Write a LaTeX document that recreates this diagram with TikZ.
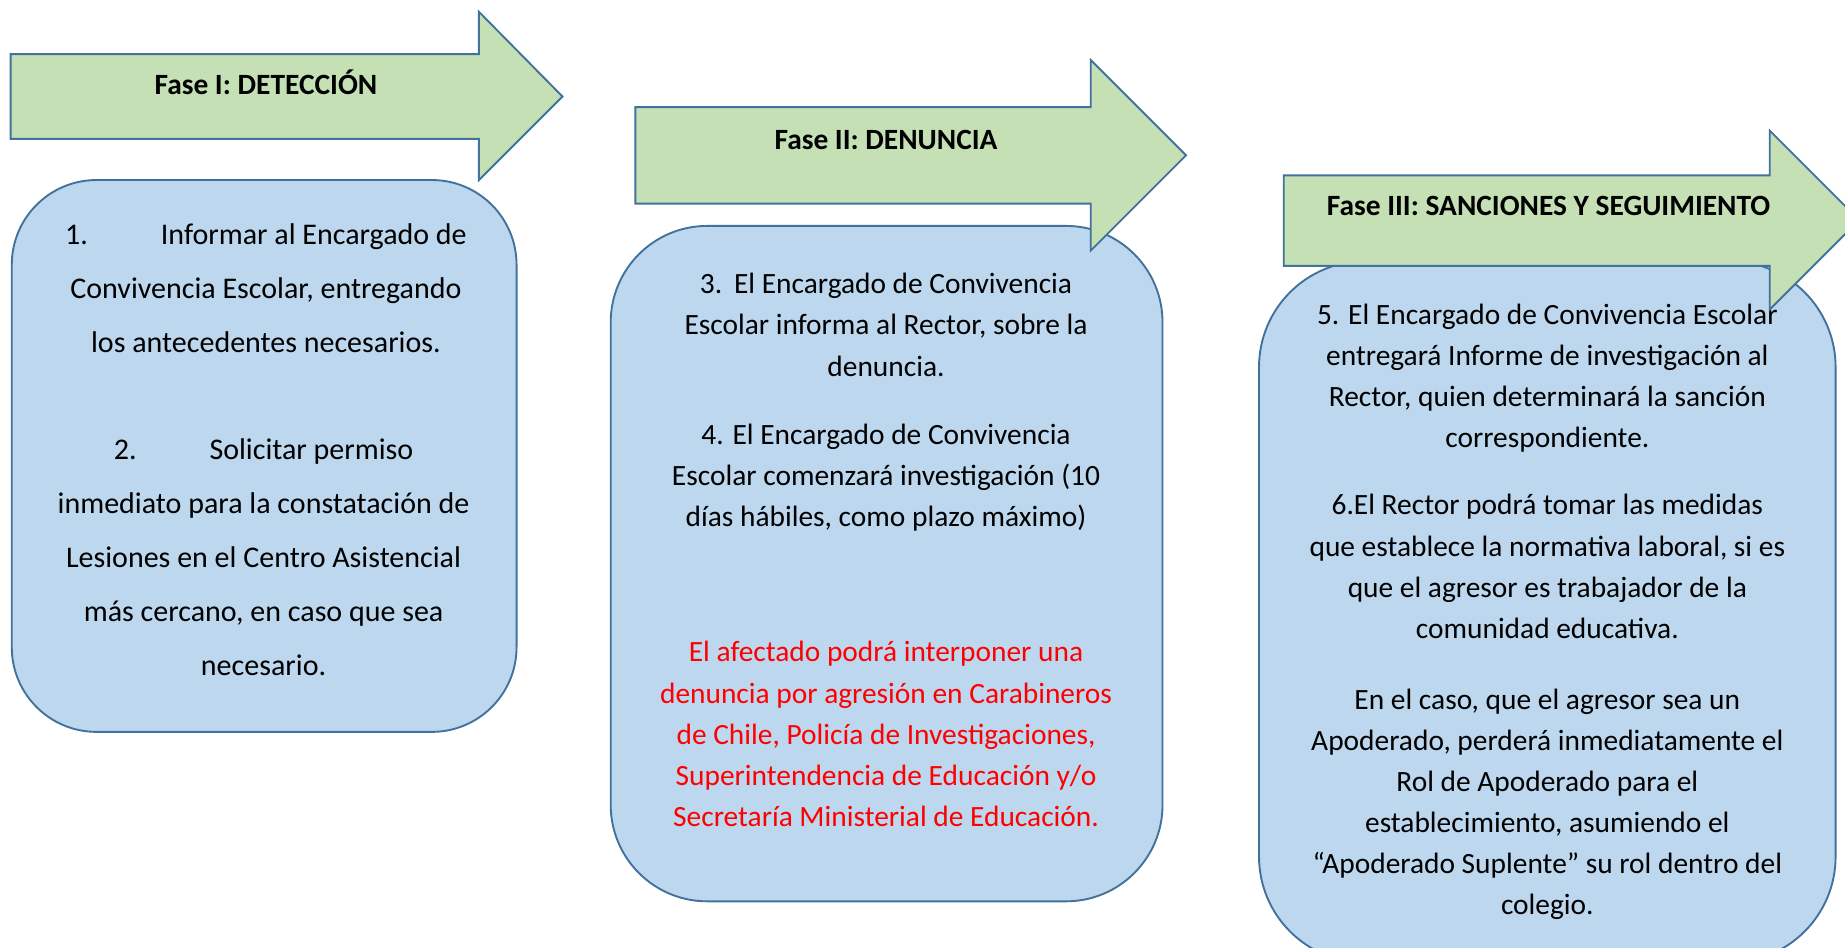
\documentclass[tikz,border=0pt]{standalone}
\usepackage{fontspec}
\setmainfont{Carlito}
\definecolor{arrowfill}{HTML}{C5E0B4}
\definecolor{boxfill}{HTML}{BDD7EE}
\definecolor{edgeblue}{HTML}{41719C}
\definecolor{alertred}{HTML}{FF0000}
\tikzset{
  phasearrow/.style={fill=arrowfill, draw=edgeblue, line width=1.6pt, line join=miter},
  stagebox/.style={fill=boxfill, draw=edgeblue, line width=1.6pt, inner sep=0pt},
  phaselabel/.style={font=\bfseries\fontsize{25}{28}\selectfont, inner sep=0pt, anchor=base},
  bodytext/.style={font=\fontsize{25}{35}\selectfont, align=center, inner sep=0pt, anchor=north},
  widetext/.style={font=\fontsize{25.5}{45.8}\selectfont, align=center, inner sep=0pt, anchor=north},
}
\begin{document}
\begin{tikzpicture}[x=1pt,y=-1pt]
\useasboundingbox (0,0) rectangle (1568,805);
\clip (0,0) rectangle (1568,805);
% ---- Phase I ----
\draw[phasearrow] (9,46) -- (407,46) -- (407,10) -- (478,82) -- (407,153) -- (407,118) -- (9,118) -- cycle;
\node[phaselabel] (f1) at (226,80) {Fase I: DETECCIÓN};
\node[stagebox, rounded corners=72pt, minimum width=429pt, minimum height=469pt] (b1) at (224.5,387.5) {};
\node[widetext] (t1a) at (226,190) {1.\hspace{62pt}Informar al Encargado de\\Convivencia Escolar, entregando\\los antecedentes necesarios.};
\node[widetext] (t1b) at (224,373) {2.\hspace{62pt}Solicitar permiso\\inmediato para la constatación de\\Lesiones en el Centro Asistencial\\más cercano, en caso que sea\\necesario.};
% ---- Phase II ----
\node[stagebox, rounded corners=82pt, minimum width=469pt, minimum height=574pt] (b2) at (753.5,479) {};
\node[bodytext] (t2a) at (753,232) {3.\hspace{10pt}El Encargado de Convivencia\\Escolar informa al Rector, sobre la\\denuncia.};
\node[bodytext] (t2b) at (753,360) {4. El Encargado de Convivencia\\Escolar comenzará investigación (10\\días hábiles, como plazo máximo)};
\node[bodytext, text=alertred] (t2c) at (753,545) {El afectado podrá interponer una\\denuncia por agresión en Carabineros\\de Chile, Policía de Investigaciones,\\Superintendencia de Educación y/o\\Secretaría Ministerial de Educación.};
\draw[phasearrow] (540,91) -- (927,91) -- (927,51) -- (1008,132) -- (927,213) -- (927,173) -- (540,173) -- cycle;
\node[phaselabel] (f2) at (753,127) {Fase II: DENUNCIA};
% ---- Phase III ----
\node[stagebox, rounded corners=90pt, minimum width=490pt, minimum height=596pt] (b3) at (1315,520) {};
\node[bodytext] (t3a) at (1315,258) {5. El Encargado de Convivencia Escolar\\entregará Informe de investigación al\\Rector, quien determinará la sanción\\correspondiente.};
\node[bodytext] (t3b) at (1315,420) {6.El Rector podrá tomar las medidas\\que establece la normativa laboral, si es\\que el agresor es trabajador de la\\comunidad educativa.};
\node[bodytext] (t3c) at (1315,585) {En el caso, que el agresor sea un\\Apoderado, perderá inmediatamente el\\Rol de Apoderado para el\\establecimiento, asumiendo el\\“Apoderado Suplente” su rol dentro del\\colegio.};
\draw[phasearrow] (1091,149) -- (1504,149) -- (1504,111) -- (1580,187) -- (1504,263) -- (1504,226) -- (1091,226) -- cycle;
\node[phaselabel] (f3) at (1316,183) {Fase III: SANCIONES Y SEGUIMIENTO};
\end{tikzpicture}
\end{document}
